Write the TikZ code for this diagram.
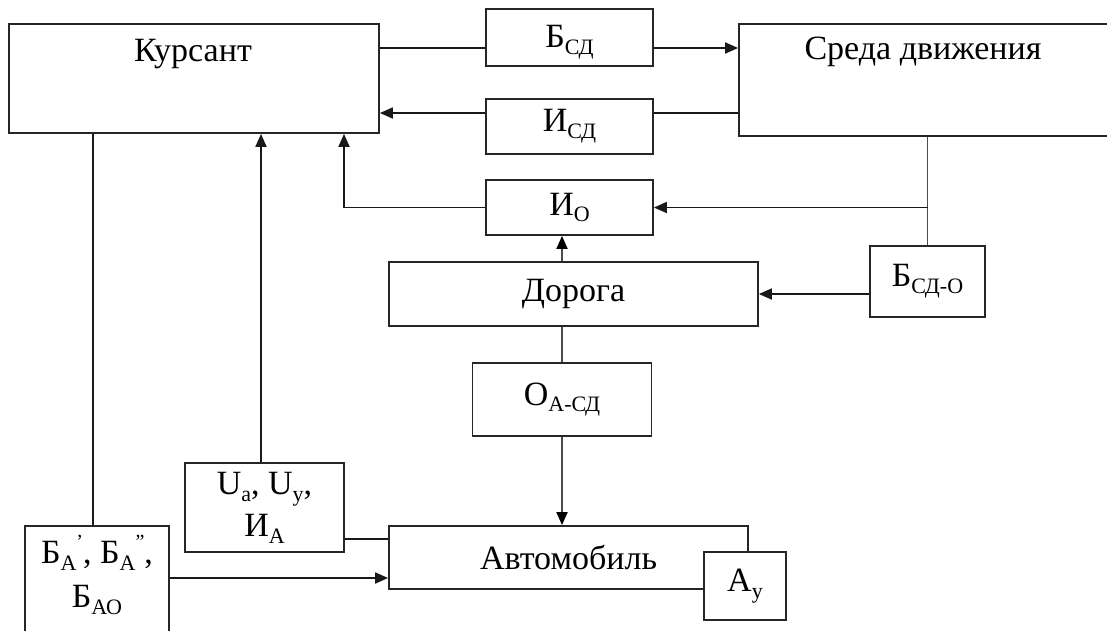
\documentclass[tikz,border=0pt]{standalone}
\usepackage{fontspec}
\setmainfont{Liberation Serif}
\usetikzlibrary{arrows.meta,calc}
% lowered small index and raised small mark
\newcommand{\lo}[1]{\raisebox{-0.2em}{\fontsize{22}{22}\selectfont #1}}
\newcommand{\hi}[1]{\raisebox{0.45em}{\fontsize{20}{20}\selectfont #1}}

\begin{document}
\begin{tikzpicture}[x=1pt,y=-1pt,
  font=\fontsize{34}{42}\selectfont,
  box/.style 2 args={draw=black!85, line width=1.8pt, fill=white, inner sep=0pt,
    minimum width=#1, minimum height=#2, align=center},
  ln/.style={draw=black!90, line width=1.8pt},
  gln/.style={draw=black!70, line width=1.9pt},
  arr/.style={ln, -{Triangle[length=13pt,width=11pt]}},
  garr/.style={gln, -{Triangle[length=13pt,width=11pt,fill=black,color=black]}},
  lbl/.style={inner sep=0pt}]
\useasboundingbox (0,0) rectangle (1107,630);
\clip (0,0) rectangle (1107,630);

% blocks
\node[box={370pt}{109pt}] (kurs)   at (194,78.5) {};
\node[lbl] (kurstext) at (193,54) {Курсант};
\node[box={167pt}{57pt}]  (bsd)    at (569.5,37.5) {};
\node[lbl] (bsdtext) at (569.5,42) {Б\lo{СД}};
\node[box={167pt}{55pt}]  (isd)    at (569.5,126.5) {И\lo{СД}};
\node[box={167pt}{55pt}]  (io)     at (569.5,207.5) {И\lo{О}};
\node[box={381pt}{112pt}] (sreda)  at (929.5,80) {};
\node[lbl] (sredatext) at (923,52) {Среда движения};
\node[box={115pt}{71pt}]  (bsdo)   at (927.5,281.5) {Б\lo{СД-О}};
\node[box={369pt}{64pt}]  (doroga) at (573.5,294) {Дорога};
\node[box={179pt}{73pt}]  (oasd)   at (562,399.5) {О\lo{А-СД}};
\node[box={359pt}{63pt}]  (avto)   at (568.5,557.5) {Автомобиль};
\node[box={82pt}{68pt}]   (ay)     at (745,586) {А\lo{у}};
\node[box={159pt}{89pt}]  (ua)     at (264.5,507.5) {U\lo{а}, U\lo{у},\\И\lo{А}};
\node[box={144pt}{114pt}] (ba)     at (97,583) {};
\node[lbl,align=center,font=\fontsize{34}{44}\selectfont] (batext) at (97,575)
  {Б\lo{А}\hi{’}, Б\lo{А}\hi{”},\\Б\lo{АО}};

% helper points on the block edges
\coordinate (kb) at ($(bsd.west)+(0,10.5)$);
\coordinate (ki) at ($(isd.east)+(0,-13.5)$);
\coordinate (c1) at ([xshift=-101pt]kurs.south);
\coordinate (c2) at ([xshift=67pt]kurs.south);
\coordinate (c3) at ([xshift=150pt]kurs.south);
\coordinate (c4) at ($(ua.east)+(0,31.5)$);
\coordinate (c5) at ($(ba.east)+(0,-5)$);

% connectors
\draw[ln]  (kurs.east |- kb) -- (kb);
\draw[arr] (bsd.east |- kb) -- (sreda.west |- kb);
\draw[ln]  (sreda.west |- ki) -- (ki);
\draw[arr] (isd.west |- ki) -- (kurs.east |- ki);
\draw[gln] (sreda.south -| bsdo.north) -- (bsdo.north);
\draw[arr] (io.east -| bsdo.north) -- (io.east);
\draw[arr] (io.west) -| (c3);
\draw[arr] (ua.north -| c2) -- (c2);
\draw[ln]  (c1) -- (ba.north -| c1);
\draw[garr] (doroga.north -| oasd.north) -- (io.south -| oasd.north);
\draw[gln] (oasd.north) -- (doroga.south -| oasd.north);
\draw[garr] (oasd.south) -- (avto.north -| oasd.south);
\draw[arr] (doroga.east -| bsdo.west) -- (doroga.east);
\draw[ln]  (ua.east |- c4) -- (avto.west |- c4);
\draw[arr] (c5) -- (avto.west |- c5);
\end{tikzpicture}
\end{document}
